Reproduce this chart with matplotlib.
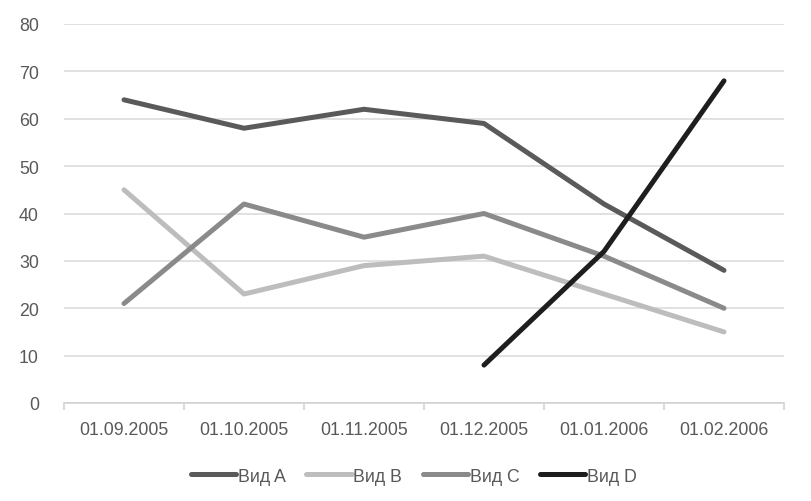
import matplotlib
matplotlib.use("Agg")
import matplotlib.pyplot as plt
import numpy as np

categories = ["01.09.2005", "01.10.2005", "01.11.2005", "01.12.2005", "01.01.2006", "01.02.2006"]
series_names = ["Вид A", "Вид B", "Вид C", "Вид D"]
vid_a = [64, 58, 62, 59, 42, 28]
vid_b = [45, 23, 29, 31, 23, 15]
vid_c = [21, 42, 35, 40, 31, 20]
vid_d = [np.nan, np.nan, np.nan, 8, 32, 68]
y_ticks = [0, 10, 20, 30, 40, 50, 60, 70, 80]

colors = ["#5a5a5a", "#bdbdbd", "#8a8a8a", "#1e1e1e"]

plt.rcParams['font.family'] = ['Liberation Sans', 'DejaVu Sans']

fig = plt.figure(figsize=(8.12, 5.02), dpi=100)
ax = fig.add_axes([64/812, 1-404/502, 720/812, 379/502])

x = np.arange(len(categories))
for vals, name, c in zip([vid_a, vid_b, vid_c, vid_d], series_names, colors):
    ax.plot(x, vals, color=c, lw=3.6, label=name, solid_capstyle='round', solid_joinstyle='round')

ax.set_xlim(-0.5, len(categories)-0.5)
ax.set_ylim(0, 80)
ax.set_yticks(y_ticks)
ax.set_yticklabels([str(v) for v in y_ticks])
ax.set_xticks(x)
ax.set_xticklabels(categories)
ax.set_xticks(np.arange(-0.5, len(categories), 1.0), minor=True)

ax.grid(axis='y', color='#d9d9d9', lw=1.1)
ax.set_axisbelow(True)
for s in ['top', 'right', 'left']:
    ax.spines[s].set_visible(False)
ax.spines['bottom'].set_color('#d0d0d0')
ax.spines['bottom'].set_linewidth(1.1)

ax.tick_params(axis='y', length=0, pad=18, labelsize=12.8, labelcolor='#595959')
ax.tick_params(axis='x', which='major', length=0, pad=13, labelsize=12.8, labelcolor='#595959')
ax.tick_params(axis='x', which='minor', length=5, width=1.1, color='#d0d0d0')

leg = ax.legend(loc='upper center', bbox_to_anchor=(0.486, -0.128), ncol=4, frameon=False,
                fontsize=12.8, handlelength=2.55, handletextpad=0.1, columnspacing=1.15,
                labelcolor='#595959')

fig.savefig("out.png", dpi=100)
